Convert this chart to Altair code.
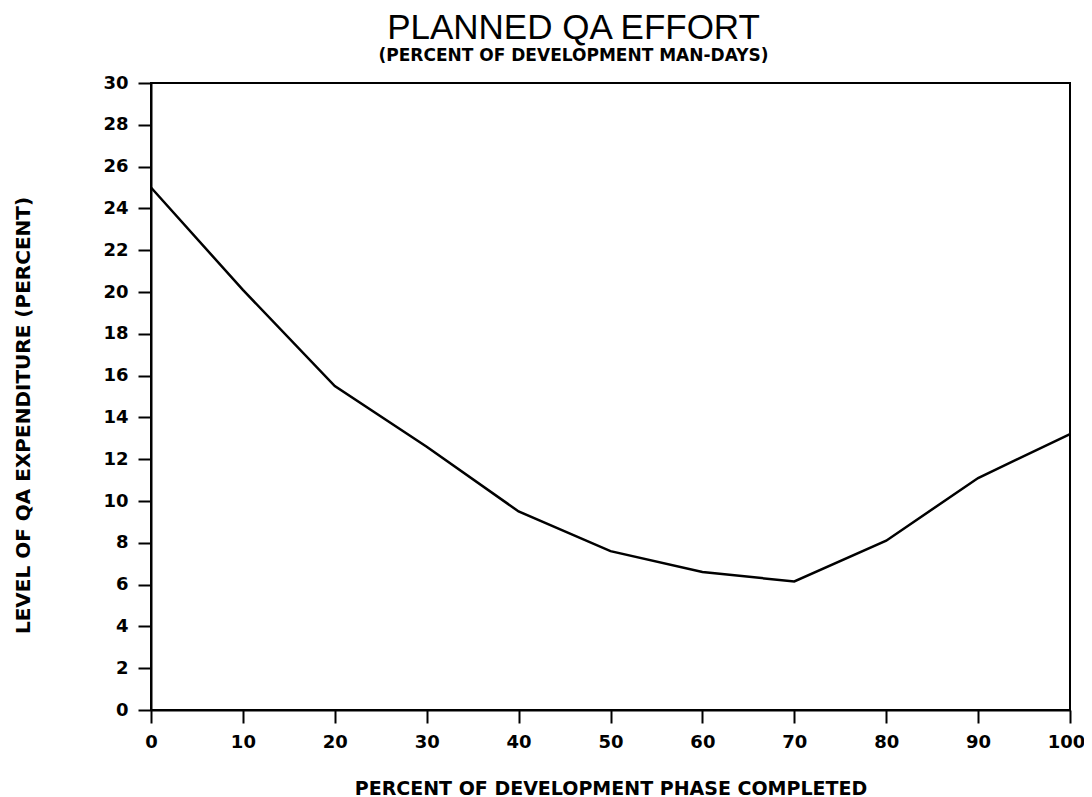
import altair as alt
import pandas as pd

phase = [0, 10, 20, 30, 40, 50, 60, 70, 80, 90, 100]
effort = [25.0, 20.1, 15.5, 12.6, 9.5, 7.6, 6.6, 6.15, 8.1, 11.1, 13.2]
x_ticks = [0, 10, 20, 30, 40, 50, 60, 70, 80, 90, 100]
y_ticks = list(range(0, 31, 2))

df = pd.DataFrame({"phase": phase, "effort": effort})

FONT = "DejaVu Sans"

line = alt.Chart(df).mark_line(color="black", strokeWidth=2.5).encode(
    x=alt.X(
        "phase:Q",
        scale=alt.Scale(domain=[0, 100], nice=False, zero=False),
        axis=alt.Axis(
            values=x_ticks,
            title="PERCENT OF DEVELOPMENT PHASE COMPLETED",
            grid=False,
            domainColor="black",
            domainWidth=2,
            tickColor="black",
            tickWidth=2,
            tickSize=13,
            labelPadding=10,
            labelFont=FONT,
            labelFontSize=18,
            labelFontWeight="bold",
            labelColor="black",
            labelFlush=False,
            labelOffset={"condition": {"test": "datum.value === 100", "value": -4}, "value": 0},
            titleFont=FONT,
            titleFontSize=19,
            titleFontWeight="bold",
            titleColor="black",
            titleBaseline="alphabetic",
            titleY=84,
        ),
    ),
    y=alt.Y(
        "effort:Q",
        scale=alt.Scale(domain=[0, 30], nice=False),
        axis=alt.Axis(
            values=y_ticks,
            title="LEVEL OF QA EXPENDITURE (PERCENT)",
            grid=False,
            domainColor="black",
            domainWidth=2,
            tickColor="black",
            tickWidth=2,
            tickSize=13,
            labelPadding=10,
            labelFont=FONT,
            labelFontSize=18,
            labelFontWeight="bold",
            labelColor="black",
            labelFlush=False,
            titleFont=FONT,
            titleFontSize=20,
            titleFontWeight="bold",
            titleColor="black",
            titleAngle=270,
            titleBaseline="middle",
            titleX=-128,
            titleY=332,
        ),
    ),
)

chart = line.properties(
    width=919,
    height=627,
    background="white",
    title=alt.TitleParams(
        text="PLANNED QA EFFORT",
        subtitle="(PERCENT OF DEVELOPMENT MAN-DAYS)",
        font="Liberation Sans",
        fontSize=35,
        fontWeight="normal",
        color="black",
        subtitleFont=FONT,
        subtitleFontSize=17,
        subtitleFontWeight="bold",
        subtitleColor="black",
        subtitlePadding=2,
        anchor="middle",
        dx=-37,
        offset=10,
    ),
    autosize=alt.AutoSizeParams(type="none"),
    padding={"left": 143, "top": 75, "right": 14, "bottom": 90},
).configure_view(
    stroke="black", strokeWidth=2
)

chart.save("out.html", embed_options={"renderer": "svg", "actions": False})
